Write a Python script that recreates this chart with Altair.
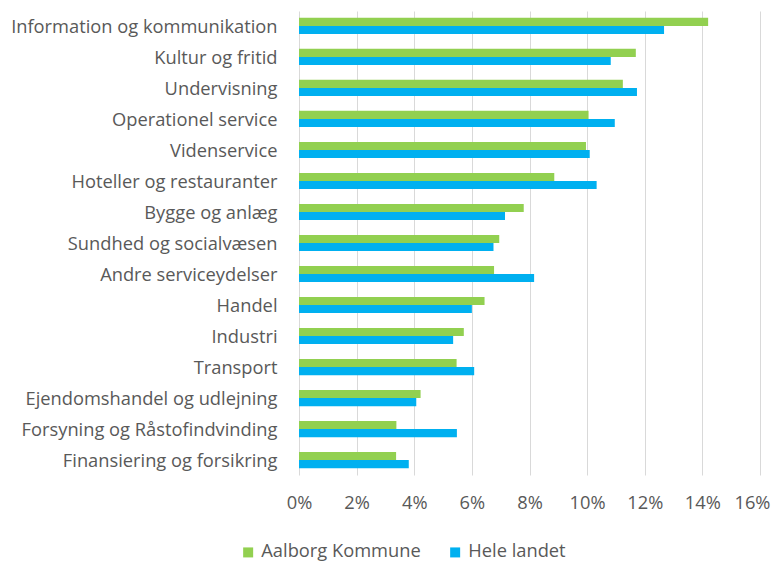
import altair as alt
import pandas as pd

categories = [
    "Information og kommunikation", "Kultur og fritid", "Undervisning",
    "Operationel service", "Videnservice", "Hoteller og restauranter",
    "Bygge og anlæg", "Sundhed og socialvæsen", "Andre serviceydelser",
    "Handel", "Industri", "Transport", "Ejendomshandel og udlejning",
    "Forsyning og Råstofindvinding", "Finansiering og forsikring",
]
aalborg = [14.20, 11.69, 11.24, 10.05, 9.96, 8.86, 7.80, 6.95, 6.77,
           6.44, 5.72, 5.47, 4.22, 3.38, 3.37]
hele_landet = [12.67, 10.82, 11.73, 10.96, 10.09, 10.33, 7.15, 6.75, 8.16,
               6.00, 5.35, 6.08, 4.07, 5.48, 3.81]
series = ["Aalborg Kommune", "Hele landet"]
colors = ["#92D050", "#00B0F0"]

rows = []
for c, a, h in zip(categories, aalborg, hele_landet):
    rows.append({"cat": c, "series": series[0], "value": a / 100})
    rows.append({"cat": c, "series": series[1], "value": h / 100})
df = pd.DataFrame(rows)

FONT = "Open Sans"
FS = 18.3
chart = alt.Chart(df).mark_bar().encode(
    y=alt.Y("cat:N", sort=categories, title=None,
            scale=alt.Scale(paddingInner=0.48, paddingOuter=0.22),
            axis=alt.Axis(ticks=False, domain=False, labelPadding=22, labelOffset=2,
                          labelFontSize=FS, labelColor="#595959", labelFont=FONT,
                          labelLimit=300)),
    yOffset=alt.YOffset("series:N", sort=series,
                        scale=alt.Scale(paddingInner=0, paddingOuter=0)),
    x=alt.X("value:Q", title=None,
            scale=alt.Scale(domain=[0, 0.16], nice=False),
            axis=alt.Axis(format=".0%", values=[i / 100 for i in range(0, 17, 2)],
                          ticks=False, domain=False, grid=True,
                          gridColor="#D9D9D9", gridWidth=1, labelFlush=False,
                          labelAlign={"condition": {"test": "datum.value > 0.155", "value": "right"},
                                      "value": "center"},
                          labelOffset={"condition": {"test": "datum.value > 0.155", "value": 10},
                                       "value": 0},
                          labelPadding=19, labelFontSize=FS,
                          labelColor="#595959", labelFont=FONT)),
    color=alt.Color("series:N", sort=series,
                    scale=alt.Scale(domain=series, range=colors),
                    legend=alt.Legend(title=None, orient="none", direction="horizontal",
                                      legendX=-60, legendY=532,
                                      symbolType="square", symbolSize=100,
                                      symbolStrokeWidth=0,
                                      labelFontSize=FS, labelColor="#595959",
                                      labelFont=FONT, columnPadding=25)),
).properties(
    width=461, height=464,
    autosize=alt.AutoSizeParams(type="none"),
    padding={"left": 291, "top": 3, "right": 11, "bottom": 96},
).configure_view(stroke=None)

chart.save("out.html", embed_options={"renderer": "svg", "actions": False})
